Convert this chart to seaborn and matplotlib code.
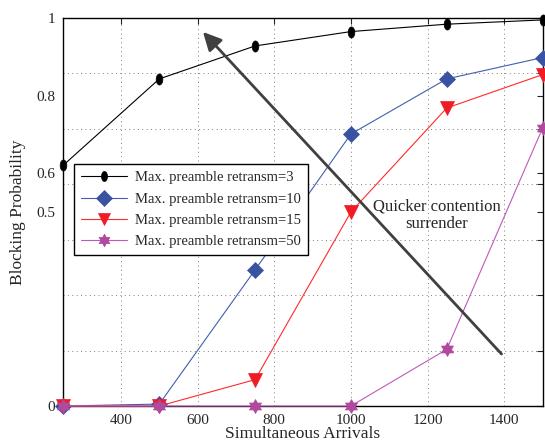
import numpy as np
import pandas as pd
import matplotlib
matplotlib.use("Agg")
import matplotlib.pyplot as plt
import matplotlib.path as mpath
import seaborn as sns

arrivals = [250, 500, 750, 1000, 1250, 1500]
retx3 = [0.621, 0.843, 0.928, 0.965, 0.984, 0.995]
retx10 = [0.0, 0.005, 0.351, 0.701, 0.843, 0.898]
retx15 = [0.0, 0.0, 0.068, 0.500, 0.768, 0.854]
retx50 = [0.0, 0.0, 0.0, 0.0, 0.146, 0.716]
labels = ["Max. preamble retransm=3", "Max. preamble retransm=10",
          "Max. preamble retransm=15", "Max. preamble retransm=50"]
xticks = [400, 600, 800, 1000, 1200, 1400]
yticks = [0, 0.5, 0.6, 0.8, 1]

sns.set_style("white")
plt.rcParams["font.family"] = ["Liberation Serif", "DejaVu Serif"]

df = pd.DataFrame({
    "arrivals": arrivals * 4,
    "prob": retx3 + retx10 + retx15 + retx50,
    "series": sum([[l] * len(arrivals) for l in labels], []),
})

# tall ellipse marker for the first series
t = np.linspace(0, 2 * np.pi, 40)
ellipse = mpath.Path(np.column_stack([0.6 * np.cos(t), np.sin(t)]), closed=True)

# six-pointed star (hexagram) marker
ang = np.pi / 2 + np.arange(13) * np.pi / 6
rad = np.where(np.arange(13) % 2 == 0, 1.0, 0.577)
hexagram = mpath.Path(np.column_stack([rad * np.cos(ang), rad * np.sin(ang)]), closed=True)

styles = [
    dict(color="black", marker=ellipse, ms=8, mfc="black", mec="black"),
    dict(color="#3F5FB0", marker="D", ms=8.5, mfc="#3A52A2", mec="#3A52A2"),
    dict(color="#FF2A2A", marker="v", ms=9.5, mfc="#EE1C25", mec="#EE1C25"),
    dict(color="#C058B8", marker=hexagram, ms=10, mfc="#B04A9E", mec="#B04A9E"),
]

fig = plt.figure(figsize=(5.45, 4.43), dpi=100)
ax = fig.add_axes([0.1165, 0.0835, 0.879, 0.8759])

for lab, st in zip(labels, styles):
    sub = df[df["series"] == lab]
    sns.lineplot(data=sub, x="arrivals", y="prob", ax=ax, label=lab,
                 color=st["color"], marker=st["marker"], markersize=st["ms"],
                 markerfacecolor=st["mfc"], markeredgecolor=st["mec"],
                 markeredgewidth=0.5, linewidth=0.8, errorbar=None,
                 clip_on=False, zorder=3)

ax.set_xlim(250, 1500)
ax.set_ylim(0, 1)
ax.set_xticks(xticks)
ax.set_yticks(yticks)
ax.set_yticklabels(["0", "0.5", "0.6", "0.8", "1"])
ax.set_yticks([k / 7 for k in range(1, 7)], minor=True)
ax.grid(True, which="major", axis="x", linestyle=(0, (1, 3.5)), color="#808080", linewidth=0.7)
ax.grid(True, which="minor", axis="y", linestyle=(0, (1, 3.5)), color="#808080", linewidth=0.7)
ax.grid(False, which="major", axis="y")
ax.tick_params(axis="both", which="both", direction="in", top=True, right=True,
               labelsize=11, length=4, width=0.8, pad=6)
for s in ax.spines.values():
    s.set_color("black")
    s.set_linewidth(1.0)
    s.set_zorder(2.5)

ax.set_xlabel("Simultaneous Arrivals", fontsize=12.5, labelpad=-1)
ax.set_ylabel("Blocking Probability", fontsize=12.5, labelpad=7)

ax.annotate("", xy=(614, 0.964), xytext=(1393, 0.134),
            arrowprops=dict(arrowstyle="-|>,head_length=1.0,head_width=0.5",
                            color="#404040", lw=2, mutation_scale=11,
                            shrinkA=0, shrinkB=0))
ax.text(1224, 0.492, "Quicker contention\nsurrender", ha="center", va="center",
        fontsize=12, linespacing=1.15)

leg = ax.legend(loc="upper left", bbox_to_anchor=(0.022, 0.624), borderaxespad=0,
                fontsize=10.5, frameon=True, fancybox=False, framealpha=1,
                edgecolor="black", handlelength=3.1, handletextpad=0.55,
                labelspacing=0.55, borderpad=0.5, markerscale=0.9)
leg.get_frame().set_linewidth(1.0)

fig.savefig("out.png", dpi=100)
